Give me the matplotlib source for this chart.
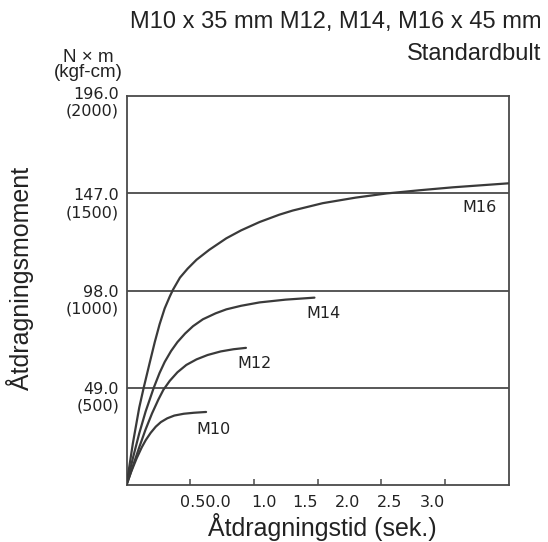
import matplotlib
matplotlib.use("Agg")
import matplotlib.pyplot as plt
import matplotlib.transforms as mtransforms

W, H = 548, 542

# ---- data ----
m10_t = [0, 0.037, 0.08, 0.12, 0.151, 0.19, 0.23, 0.27, 0.32, 0.376, 0.45, 0.53, 0.625]
m10_v = [0, 6.7, 13.5, 19.0, 22.6, 26.3, 29.4, 31.7, 33.6, 35.0, 35.9, 36.4, 36.8]

m12_t = [0, 0.05, 0.1, 0.15, 0.2, 0.25, 0.29, 0.34, 0.4, 0.47, 0.55, 0.637, 0.74, 0.84, 0.938]
m12_v = [0, 9.5, 19.0, 28.0, 36.0, 43.0, 48.0, 52.5, 56.8, 60.5, 63.3, 65.5, 67.3, 68.4, 69.1]

m14_t = [0, 0.05, 0.1, 0.15, 0.214, 0.26, 0.3, 0.35, 0.4, 0.46, 0.522, 0.6, 0.7, 0.784,
         0.9, 1.045, 1.25, 1.476]
m14_v = [0, 13.5, 26.0, 37.0, 49.0, 56.5, 62.0, 67.5, 72.0, 76.3, 80.0, 83.5, 86.5, 88.5,
         90.3, 92.0, 93.4, 94.4]

m16_t = [0, 0.05, 0.1, 0.135, 0.18, 0.222, 0.26, 0.3, 0.34, 0.366, 0.42, 0.48, 0.55, 0.65,
         0.784, 0.9, 1.045, 1.2, 1.306, 1.541, 1.8, 2.043, 2.3, 2.565, 3.0]
m16_v = [0, 21.0, 39.0, 49.0, 61.0, 72.0, 81.0, 89.0, 95.0, 98.5, 104.5, 109.0, 113.5, 118.5,
         124.3, 128.3, 132.5, 136.2, 138.3, 142.0, 144.8, 146.9, 148.5, 150.0, 152.0]

series_names = ["M10", "M12", "M14", "M16"]

y_levels = [49.0, 98.0, 147.0, 196.0]
y_labels = ["49.0\n(500)", "98.0\n(1000)", "147.0\n(1500)", "196.0\n(2000)"]

x_ticks = [0.5, 1.0, 1.5, 2.0, 2.5]
x_tick_labels = ["0.50.0", "1.0", "1.5", "2.0", "2.5", "3.0"]

title_text = "M10 x 35 mm M12, M14, M16 x 45 mm"
subtitle_text = "Standardbult"
unit_text = "N \u00d7 m\n(kgf-cm)"
y_title = "\u00c5tdragningsmoment"
x_title = "\u00c5tdragningstid (sek.)"

# ---- figure ----
line_col = "#3a3a3a"
text_col = "#222222"
sans = ["Liberation Sans", "DejaVu Sans"]
tickfont = ["DejaVu Sans"]

fig = plt.figure(figsize=(W / 100, H / 100), dpi=100)
left, right, bottom, top = 126.5, 508.5, 485.0, 96.0
ax = fig.add_axes([left / W, 1 - bottom / H, (right - left) / W, (bottom - top) / H])
ax.set_xlim(0, 3.0)
ax.set_ylim(0, 196.0)

for s in ax.spines.values():
    s.set_color("#4a4a4a")
    s.set_linewidth(1.3)

for lv in y_levels[:-1]:
    ax.axhline(lv, color="#4a4a4a", lw=1.3, zorder=1)

for t, v in [(m10_t, m10_v), (m12_t, m12_v), (m14_t, m14_v), (m16_t, m16_v)]:
    ax.plot(t, v, color=line_col, lw=1.6, solid_capstyle="round",
            solid_joinstyle="round", zorder=3)

# series labels
lab_pos = [(0.683, 28.1), (1.009, 61.2), (1.546, 86.6), (2.77, 140.0)]
for name, (lx, ly) in zip(series_names, lab_pos):
    ax.text(lx, ly, name, ha="center", va="center", fontsize=11.5,
            family=tickfont, color=text_col)

# x ticks (marks) and labels
ax.set_xticks(x_ticks)
ax.tick_params(axis="x", which="major", direction="in", length=4, width=1.1,
               color="#4a4a4a", labelbottom=False)
lab_x = [0.620, 1.079, 1.405, 1.735, 2.065, 2.402]
ax.set_xticks(lab_x, minor=True)
ax.set_xticklabels(x_tick_labels, minor=True, fontsize=11.5, family=tickfont, color=text_col)
ax.tick_params(axis="x", which="minor", length=0, pad=7)

ax.set_yticks([])

# y labels
yoffs = [10, 10, 11, 7]
for lv, lab, off in zip(y_levels, y_labels, yoffs):
    tr = ax.get_yaxis_transform() + mtransforms.ScaledTranslation(
        -7.5 / 100, -off / 100, fig.dpi_scale_trans)
    ax.text(0, lv, lab, transform=tr, ha="right", va="center", multialignment="right",
            fontsize=11.5, family=tickfont, color=text_col, linespacing=1.15)

# titles
fig.text(541 / W, 1 - 28 / H, title_text, ha="right", va="baseline",
         fontsize=17, family=sans, color=text_col)
fig.text(541 / W, 1 - 60 / H, subtitle_text, ha="right", va="baseline",
         fontsize=17, family=sans, color=text_col)
fig.text(88 / W, 1 - 65 / H, unit_text, ha="center", va="center",
         fontsize=13.5, family=sans, color=text_col, linespacing=0.85)

fig.text(20 / W, 1 - 278 / H, y_title, rotation=90, ha="center", va="center",
         fontsize=18, family=sans, color=text_col)
fig.text(322 / W, 1 - 527 / H, x_title, ha="center", va="center",
         fontsize=18, family=sans, color=text_col)

fig.savefig("out.png", dpi=100, facecolor="white")
